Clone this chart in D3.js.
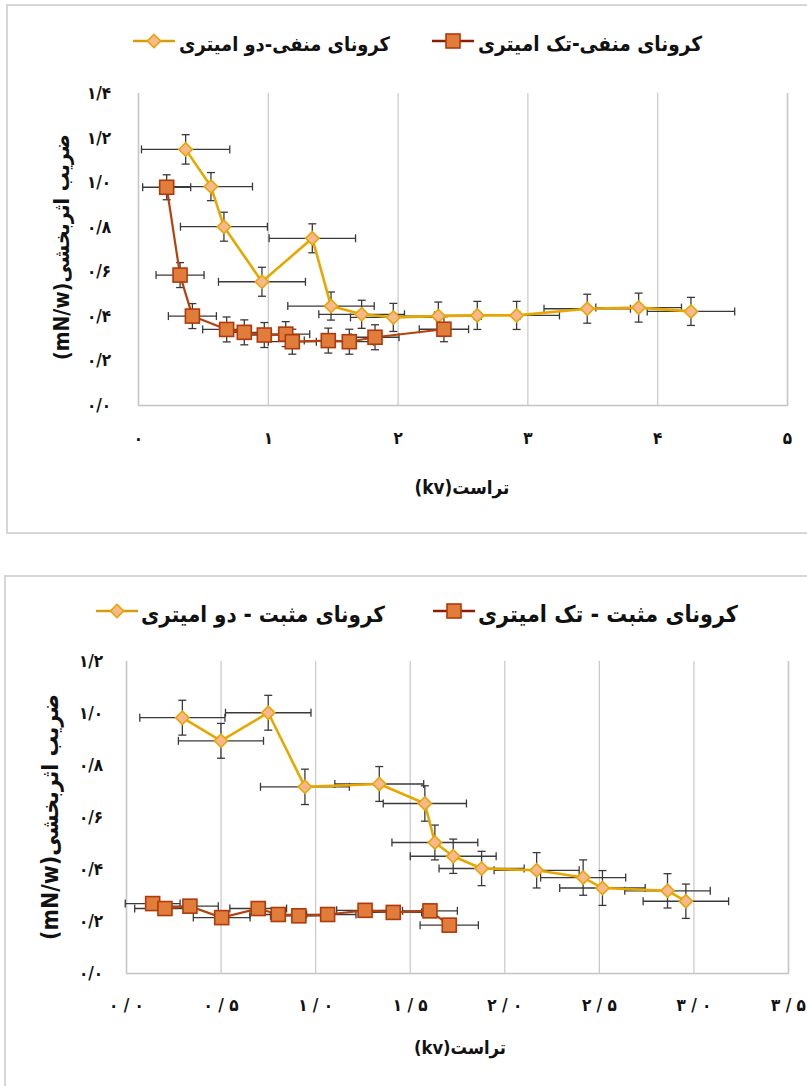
<!DOCTYPE html>
<html>
<head>
<meta charset="utf-8">
<script src="https://cdn.jsdelivr.net/npm/d3@7"></script>
<style>
  body { margin: 0; background: #fff; }
  svg text { font-family: "DejaVu Sans Condensed", "DejaVu Sans", sans-serif; font-weight: bold; fill: #111; }
</style>
</head>
<body>
<svg id="chart" width="807" height="1086"></svg>
<script>
// ---------- chart 1 : negative corona ----------
var negTwoX    = [0.367, 0.562, 0.662, 0.955, 1.343, 1.487, 1.723, 1.967, 2.314, 2.614, 2.917, 3.461, 3.857, 4.26];
var negTwoY    = [1.147, 0.98, 0.80, 0.553, 0.748, 0.444, 0.407, 0.393, 0.399, 0.402, 0.402, 0.432, 0.437, 0.420];
var negTwoXErr = [0.34, 0.32, 0.335, 0.335, 0.333, 0.333, 0.33, 0.33, 0.33, 0.33, 0.33, 0.333, 0.33, 0.337];
var negTwoYErr = [0.066, 0.063, 0.065, 0.065, 0.065, 0.063, 0.063, 0.063, 0.063, 0.063, 0.063, 0.065, 0.065, 0.063];

var negOneX    = [0.221, 0.324, 0.419, 0.683, 0.819, 0.973, 1.138, 1.189, 1.466, 1.628, 1.826, 2.357];
var negOneY    = [0.977, 0.583, 0.399, 0.339, 0.326, 0.314, 0.318, 0.284, 0.289, 0.284, 0.304, 0.34];
var negOneXErr = [0.185, 0.185, 0.185, 0.185, 0.185, 0.185, 0.185, 0.185, 0.185, 0.185, 0.185, 0.19];
var negOneYErr = [0.056, 0.056, 0.056, 0.056, 0.056, 0.056, 0.056, 0.056, 0.056, 0.056, 0.056, 0.056];

var negXTicks = [0, 1, 2, 3, 4, 5];
var negXTickLabels = ["۰", "۱", "۲", "۳", "۴", "۵"];
var negYTicks = [0, 0.2, 0.4, 0.6, 0.8, 1.0, 1.2, 1.4];
var negYTickLabels = ["۰/۰", "۰/۲", "۰/۴", "۰/۶", "۰/۸", "۱/۰", "۱/۲", "۱/۴"];
var negLegend = ["کرونای منفی-دو امیتری", "کرونای منفی-تک امیتری"];

// ---------- chart 2 : positive corona ----------
var posTwoX    = [0.298, 0.502, 0.752, 0.946, 1.339, 1.580, 1.633, 1.730, 1.880, 2.171, 2.417, 2.519, 2.863, 2.96];
var posTwoY    = [0.982, 0.893, 1.001, 0.716, 0.727, 0.652, 0.502, 0.449, 0.402, 0.395, 0.367, 0.327, 0.316, 0.276];
var posTwoXErr = [0.225, 0.225, 0.226, 0.235, 0.235, 0.22, 0.227, 0.227, 0.225, 0.225, 0.225, 0.226, 0.226, 0.226];
var posTwoYErr = [0.067, 0.067, 0.067, 0.068, 0.067, 0.068, 0.067, 0.066, 0.066, 0.068, 0.068, 0.067, 0.066, 0.066];

var posOneX    = [0.141, 0.206, 0.338, 0.506, 0.699, 0.805, 0.914, 1.066, 1.264, 1.413, 1.607, 1.709];
var posOneY    = [0.267, 0.248, 0.257, 0.213, 0.248, 0.225, 0.22, 0.225, 0.241, 0.233, 0.239, 0.184];
var posOneXErr = [0.145, 0.16, 0.15, 0.15, 0.15, 0.15, 0.15, 0.15, 0.15, 0.15, 0.145, 0.154];
var posOneYErr = [0.015, 0.015, 0.015, 0.015, 0.015, 0.015, 0.015, 0.015, 0.015, 0.015, 0.015, 0.015];

var posXTicks = [0, 0.5, 1, 1.5, 2, 2.5, 3, 3.5];
var posXTickLabels = ["۰ / ۰", "۰ / ۵", "۱ / ۰", "۱ / ۵", "۲ / ۰", "۲ / ۵", "۳ / ۰", "۳ / ۵"];
var posYTicks = [0, 0.2, 0.4, 0.6, 0.8, 1.0, 1.2];
var posYTickLabels = ["۰/۰", "۰/۲", "۰/۴", "۰/۶", "۰/۸", "۱/۰", "۱/۲"];
var posLegend = ["کرونای مثبت - دو امیتری", "کرونای مثبت - تک امیتری"];

var yTitle = "ضریب اثربخشی(mN/w)";
var xTitle = "تراست(kv)";

var svg = d3.select("#chart");

// styles of the two series
var styleTwo = { line: "#E6A800", legendLine: "#D49E0A", width: 2.6, fill: "#F8B88E", stroke: "#E8A500", shape: "diamond" };
var styleOne = { line: "#B4410E", legendLine: "#8E1C06", width: 2.2, fill: "#E07D3B", stroke: "#B03A0A", shape: "square" };

function zip(xs, ys, xe, ye) {
  return xs.map(function(d, i) { return { x: d, y: ys[i], xe: xe[i], ye: ye[i] }; });
}

// font-size so that the text takes a given width
function fitText(t, target, base) {
  t.attr("font-size", base);
  var w = t.node().getComputedTextLength();
  t.attr("font-size", (base * target / w).toFixed(2));
}

function marker(g, style, cx, cy) {
  if (style.shape == "diamond") {
    g.append("path")
      .attr("d", d3.symbol().type(d3.symbolSquare).size(88)())
      .attr("transform", "translate(" + cx + "," + cy + ") rotate(45)")
      .attr("fill", style.fill).attr("stroke", style.stroke).attr("stroke-width", 1.6);
  } else {
    g.append("rect")
      .attr("x", cx - 7).attr("y", cy - 7).attr("width", 14).attr("height", 14)
      .attr("fill", style.fill).attr("stroke", style.stroke).attr("stroke-width", 1.6);
  }
}

function drawPanel(cfg) {
  var g = svg.append("g");

  // frame
  g.append("rect")
    .attr("x", cfg.box[0]).attr("y", cfg.box[1]).attr("width", cfg.box[2]).attr("height", cfg.box[3])
    .attr("fill", "none").attr("stroke", "#C9C9C9").attr("stroke-width", 1.5);

  var x = d3.scaleLinear().domain(cfg.xDomain).range([cfg.left, cfg.right]);
  var y = d3.scaleLinear().domain(cfg.yDomain).range([cfg.bottom, cfg.top]);

  // vertical grid lines
  g.append("g")
    .attr("transform", "translate(0," + cfg.bottom + ")")
    .call(d3.axisBottom(x).tickValues(cfg.xTicks).tickSize(-(cfg.bottom - cfg.top)).tickFormat(""))
    .call(function(a) {
      a.select(".domain").attr("stroke", "#C4C4C4").attr("stroke-width", 1.5);
      a.selectAll(".tick line").attr("stroke", "#C8C8C8").attr("stroke-width", 1.2);
    });

  // tick labels
  g.append("g")
    .attr("transform", "translate(0," + cfg.xLabelY + ")")
    .call(d3.axisBottom(x).tickValues(cfg.xTicks).tickSize(0)
      .tickFormat(function(d, i) { return cfg.xTickLabels[i]; }))
    .call(function(a) {
      a.select(".domain").remove();
      a.selectAll("text").attr("font-size", 17).attr("fill", "#111")
        .attr("font-family", "DejaVu Sans").attr("font-weight", "bold")
        .attr("y", 0).attr("dy", "0.35em");
    });

  g.append("g")
    .attr("transform", "translate(" + cfg.yLabelX + ",0)")
    .call(d3.axisLeft(y).tickValues(cfg.yTicks).tickSize(0)
      .tickFormat(function(d, i) { return cfg.yTickLabels[i]; }))
    .call(function(a) {
      a.select(".domain").remove();
      a.selectAll("text").attr("font-size", 17).attr("fill", "#111")
        .attr("font-family", "DejaVu Sans").attr("font-weight", "bold")
        .attr("x", 0).attr("text-anchor", "middle");
    });

  // axis titles
  var xt = g.append("text")
    .attr("x", cfg.xTitle[0]).attr("y", cfg.xTitle[1])
    .attr("text-anchor", "middle").attr("dominant-baseline", "central")
    .style("direction", "rtl").attr("unicode-bidi", "embed")
    .text(xTitle);
  fitText(xt, cfg.xTitle[2], 18);

  var yt = g.append("text")
    .attr("transform", "translate(" + cfg.yTitle[0] + "," + cfg.yTitle[1] + ") rotate(-90)")
    .attr("text-anchor", "middle").attr("dominant-baseline", "central")
    .style("direction", "rtl").attr("unicode-bidi", "embed")
    .text(yTitle);
  fitText(yt, cfg.yTitle[2], 18);

  // series
  var line = d3.line().x(function(d) { return x(d.x); }).y(function(d) { return y(d.y); });
  var cap = 4;

  cfg.series.forEach(function(s) {
    var eb = g.append("g").attr("stroke", "#3A3A3A").attr("stroke-width", 1.3);
    s.data.forEach(function(d) {
      var px = x(d.x), py = y(d.y);
      var x1 = x(d.x - d.xe), x2 = x(d.x + d.xe), y1 = y(d.y - d.ye), y2 = y(d.y + d.ye);
      eb.append("line").attr("x1", x1).attr("x2", x2).attr("y1", py).attr("y2", py);
      eb.append("line").attr("x1", x1).attr("x2", x1).attr("y1", py - cap).attr("y2", py + cap);
      eb.append("line").attr("x1", x2).attr("x2", x2).attr("y1", py - cap).attr("y2", py + cap);
      eb.append("line").attr("x1", px).attr("x2", px).attr("y1", y1).attr("y2", y2);
      eb.append("line").attr("x1", px - cap).attr("x2", px + cap).attr("y1", y1).attr("y2", y1);
      eb.append("line").attr("x1", px - cap).attr("x2", px + cap).attr("y1", y2).attr("y2", y2);
    });
  });

  cfg.series.forEach(function(s) {
    g.append("path").datum(s.data)
      .attr("d", line).attr("fill", "none")
      .attr("stroke", s.style.line).attr("stroke-width", s.style.width)
      .attr("stroke-linejoin", "round");
  });

  cfg.series.forEach(function(s) {
    var mg = g.append("g");
    s.data.forEach(function(d) { marker(mg, s.style, x(d.x), y(d.y)); });
  });

  // legend
  cfg.legend.forEach(function(it) {
    g.append("line")
      .attr("x1", it.mx - 21).attr("x2", it.mx + 21).attr("y1", cfg.legendY - 3).attr("y2", cfg.legendY - 3)
      .attr("stroke", it.style.legendLine).attr("stroke-width", 2.6);
    marker(g, it.style, it.mx, cfg.legendY - 3);
    var t = g.append("text")
      .attr("x", (it.tl + it.tr) / 2).attr("y", cfg.legendY)
      .attr("text-anchor", "middle").attr("dominant-baseline", "central")
      .style("direction", "rtl").attr("unicode-bidi", "embed")
      .text(it.label);
    fitText(t, it.tr - it.tl, 18);
  });
}

drawPanel({
  box: [7, 5, 820, 528],
  left: 138, right: 787, top: 93, bottom: 405,
  xDomain: [0, 5], yDomain: [0, 1.4],
  xTicks: negXTicks, xTickLabels: negXTickLabels,
  yTicks: negYTicks, yTickLabels: negYTickLabels,
  xLabelY: 438, yLabelX: 99,
  xTitle: [462, 487, 95], yTitle: [61, 247, 226],
  legendY: 44,
  legend: [
    { label: negLegend[0], style: styleTwo, mx: 154, tl: 179, tr: 390 },
    { label: negLegend[1], style: styleOne, mx: 453, tl: 478, tr: 702 }
  ],
  series: [
    { style: styleTwo, data: zip(negTwoX, negTwoY, negTwoXErr, negTwoYErr) },
    { style: styleOne, data: zip(negOneX, negOneY, negOneXErr, negOneYErr) }
  ]
});

drawPanel({
  box: [5, 576, 820, 530],
  left: 126, right: 788, top: 661, bottom: 973,
  xDomain: [0, 3.5], yDomain: [0, 1.2],
  xTicks: posXTicks, xTickLabels: posXTickLabels,
  yTicks: posYTicks, yTickLabels: posYTickLabels,
  xLabelY: 1005, yLabelX: 91,
  xTitle: [460, 1047, 92], yTitle: [50, 817, 246],
  legendY: 614,
  legend: [
    { label: posLegend[0], style: styleTwo, mx: 117, tl: 141, tr: 385 },
    { label: posLegend[1], style: styleOne, mx: 454, tl: 478, tr: 738 }
  ],
  series: [
    { style: styleTwo, data: zip(posTwoX, posTwoY, posTwoXErr, posTwoYErr) },
    { style: styleOne, data: zip(posOneX, posOneY, posOneXErr, posOneYErr) }
  ]
});
</script>
</body>
</html>
